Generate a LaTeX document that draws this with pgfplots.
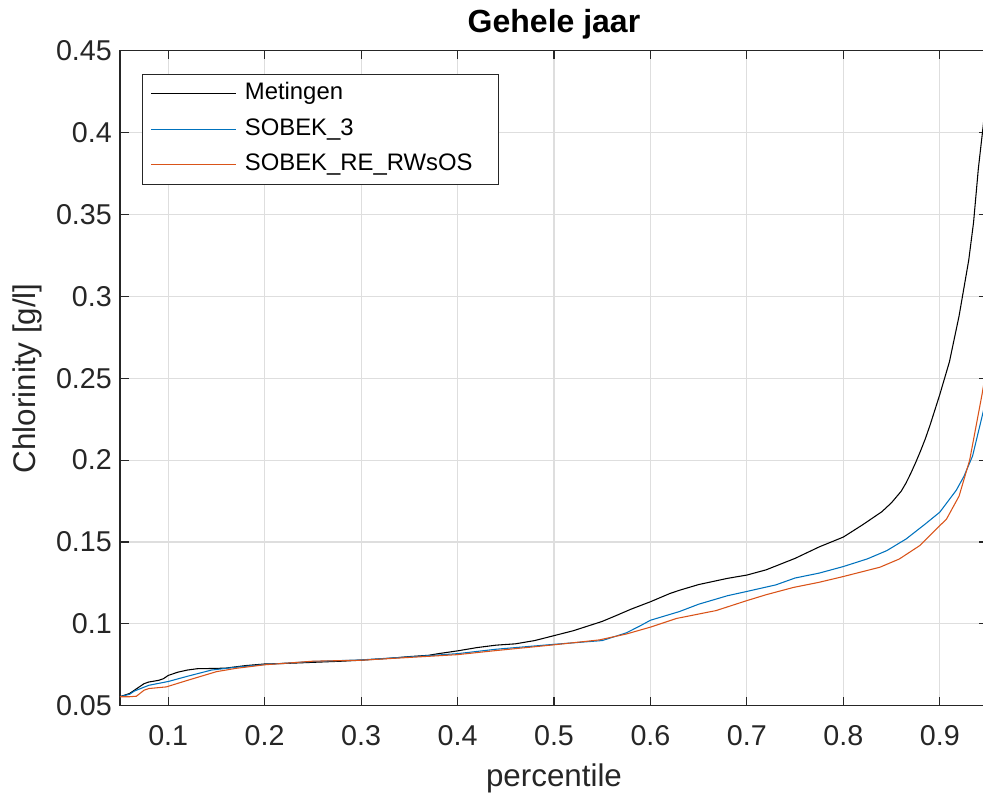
\documentclass[border=0pt]{standalone}
\usepackage{fontspec}
\setmainfont{Liberation Sans}
\usepackage{pgfplots}
\pgfplotsset{compat=1.18}

\definecolor{mlblue}{rgb}{0,0.447,0.741}
\definecolor{mlorange}{rgb}{0.85,0.325,0.098}
\definecolor{mlaxis}{gray}{0.15}
\definecolor{mlgrid}{gray}{0.87}

\begin{document}
\begin{tikzpicture}
\begin{axis}[
  at={(0,0)}, anchor=south west,
  width=651pt, height=491.25pt, scale only axis,
  xmin=0.05, xmax=0.95, ymin=0.05, ymax=0.45,
  xtick={0.1,0.2,0.3,0.4,0.5,0.6,0.7,0.8,0.9},
  xticklabels={0.1,0.2,0.3,0.4,0.5,0.6,0.7,0.8,0.9},
  ytick={0.05,0.1,0.15,0.2,0.25,0.3,0.35,0.4,0.45},
  yticklabels={0.05,0.1,0.15,0.2,0.25,0.3,0.35,0.4,0.45},
  tick align=inside, major tick length=6.5pt,
  xmajorgrids, ymajorgrids,
  grid style={mlgrid, line width=0.8pt},
  axis line style={mlaxis, line width=0.8pt},
  tick style={mlaxis, line width=0.8pt},
  ticklabel style={font=\fontsize{21.5}{25}\selectfont, text=mlaxis},
  xticklabel style={yshift=-11pt},
  yticklabel style={xshift=-2.6pt},
  xlabel={percentile},
  ylabel={Chlorinity [g/l]},
  label style={font=\fontsize{23.5}{28}\selectfont, text=mlaxis},
  xlabel style={at={(axis description cs:0.5,-0.1226)}, anchor=base},
  ylabel style={at={(axis description cs:-0.0979,0.5)}, rotate=0, anchor=base},
  title={Gehele jaar},
  title style={at={(axis description cs:0.5,1.0163)}, anchor=base,
               font=\fontsize{24}{29}\bfseries\selectfont},
  legend style={at={(axis description cs:0.0253,0.9644)}, anchor=north west,
    draw=mlaxis, line width=0.8pt, fill=white,
    font=\fontsize{17.9}{21}\selectfont,
    inner xsep=6pt, inner ysep=5pt, row sep=7.6pt, column sep=6pt,
    nodes={inner sep=0pt, text height=14pt, text depth=5pt}},
  legend image code/.code={\draw[#1, line width=0.8pt] (0pt,0pt) -- (64pt,0pt);},
]
% measured chlorinity per percentile
\addplot[black, line width=0.8pt] coordinates {
 (0.05,0.0555) (0.055,0.0565) (0.06,0.0575) (0.065,0.0595) (0.07,0.0615)
 (0.075,0.0635) (0.08,0.0645) (0.09,0.0655) (0.095,0.0665) (0.10,0.0685)
 (0.11,0.0705) (0.12,0.0718) (0.13,0.0726) (0.15,0.0728) (0.16,0.0730)
 (0.18,0.0745) (0.20,0.0755) (0.22,0.0758) (0.25,0.0765) (0.28,0.0772)
 (0.30,0.0778) (0.33,0.0790) (0.35,0.0800) (0.37,0.0808) (0.38,0.0818)
 (0.40,0.0835) (0.42,0.0855) (0.44,0.0870) (0.46,0.0878) (0.48,0.0898)
 (0.50,0.0928) (0.52,0.0958) (0.55,0.1015) (0.565,0.1052) (0.58,0.1090)
 (0.60,0.1135) (0.62,0.1185) (0.63,0.1205) (0.65,0.1240) (0.68,0.1278)
 (0.70,0.1298) (0.72,0.1330) (0.75,0.1400) (0.775,0.1470) (0.80,0.1530)
 (0.82,0.1605) (0.84,0.1685) (0.85,0.1740) (0.86,0.1810) (0.865,0.1860)
 (0.87,0.1920) (0.875,0.1985) (0.88,0.2055) (0.885,0.2130) (0.89,0.2215)
 (0.90,0.2400) (0.91,0.2600) (0.92,0.2880) (0.93,0.3220)
 (0.935,0.3450) (0.94,0.3780) (0.945,0.4040) (0.95,0.4350)
};
\addlegendentry{\makebox[184pt][l]{Metingen}}
% model run SOBEK 3
\addplot[mlblue, line width=0.8pt] coordinates {
 (0.05,0.0555) (0.06,0.0570) (0.065,0.0590) (0.08,0.0625) (0.10,0.0648)
 (0.12,0.0680) (0.145,0.0718) (0.17,0.0735) (0.20,0.0752) (0.25,0.0770)
 (0.30,0.0780) (0.35,0.0798) (0.40,0.0818) (0.44,0.0845) (0.50,0.0875)
 (0.55,0.0898) (0.575,0.0945) (0.59,0.0990) (0.60,0.1022) (0.63,0.1075)
 (0.65,0.1120) (0.68,0.1172) (0.70,0.1198) (0.73,0.1238) (0.75,0.1280)
 (0.775,0.1310) (0.80,0.1350) (0.825,0.1397) (0.845,0.1447) (0.865,0.1518)
 (0.885,0.1610) (0.90,0.1682) (0.917,0.1815) (0.925,0.1900) (0.934,0.2025)
 (0.944,0.2270) (0.95,0.2420)
};
\addlegendentry{\makebox[184pt][l]{SOBEK\_3}}
% model run SOBEK RE RWsOS
\addplot[mlorange, line width=0.8pt] coordinates {
 (0.05,0.0555) (0.06,0.0555) (0.067,0.0558) (0.075,0.0595) (0.08,0.0605)
 (0.098,0.0615) (0.12,0.0655) (0.15,0.0708) (0.17,0.0728) (0.20,0.0750)
 (0.25,0.0772) (0.30,0.0778) (0.35,0.0795) (0.40,0.0812) (0.44,0.0837)
 (0.50,0.0872) (0.547,0.0902) (0.575,0.0938) (0.60,0.0980) (0.627,0.1033)
 (0.668,0.1081) (0.70,0.1142) (0.72,0.1178) (0.748,0.1222) (0.775,0.1254)
 (0.80,0.1289) (0.838,0.1346) (0.858,0.1396) (0.879,0.1477) (0.893,0.1559)
 (0.907,0.1640) (0.92,0.1780) (0.931,0.2000) (0.944,0.2407) (0.95,0.2620)
};
\addlegendentry{\makebox[184pt][l]{SOBEK\_RE\_RWsOS}}
\end{axis}
\pgfresetboundingbox
\useasboundingbox (-90pt,-68.5pt) rectangle (647.25pt,529.3pt);
\end{tikzpicture}
\end{document}
